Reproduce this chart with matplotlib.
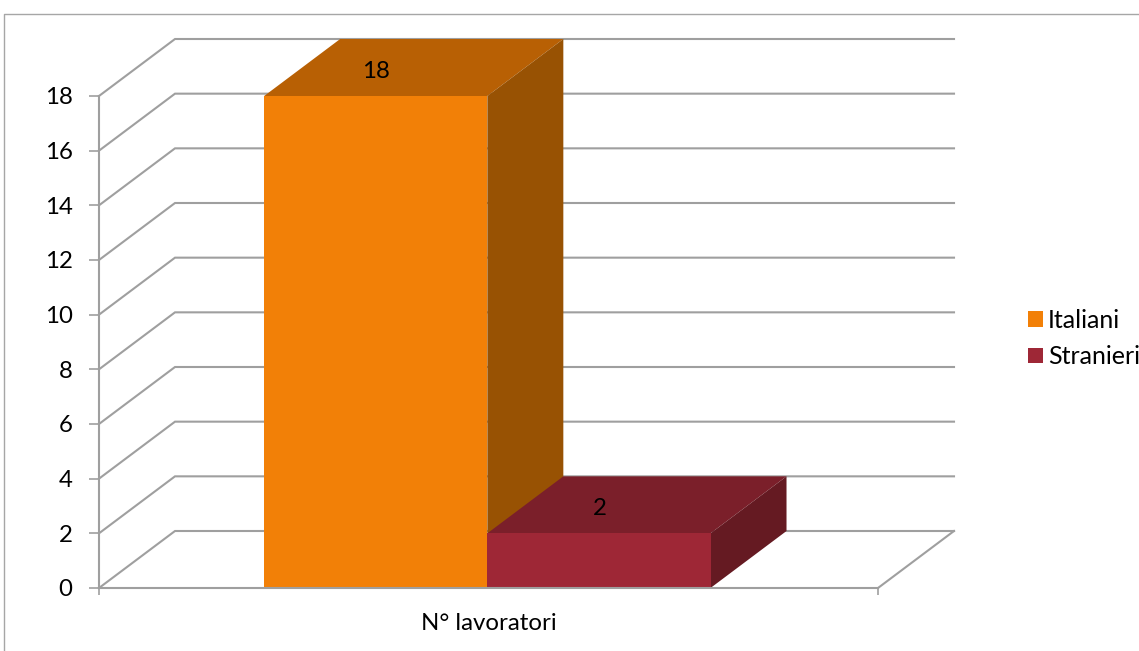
#!/usr/bin/env python
"""Pseudo-3D clustered column chart: N. of workers, Italian vs foreign."""
import matplotlib
matplotlib.use("Agg")
import matplotlib.pyplot as plt
from matplotlib.lines import Line2D
from matplotlib.patches import Polygon

plt.rcParams['font.family'] = ['Lato', 'DejaVu Sans']

category = "N° lavoratori"
series_names = ["Italiani", "Stranieri"]
series_values = [18, 2]
y_ticks = [0, 2, 4, 6, 8, 10, 12, 14, 16, 18]

front_colors = ["#F28007", "#9E2736"]
top_colors = ["#B86004", "#7B1F2A"]
side_colors = ["#985203", "#651A22"]
line_color = "#9F9F9F"
FONT_SIZE = 17.3

W, H = 1139, 651
fig = plt.figure(figsize=(W / 100, H / 100), dpi=100)

# plot box is the front face of the 3D box, in pixels
left, right, top, bottom = 99, 878, 96, 588
ax = fig.add_axes([left / W, 1 - bottom / H, (right - left) / W, (bottom - top) / H])
ax.set_xlim(0, 1)
ax.set_ylim(0, 18)

# depth of the box in data units
dx = 76 / (right - left)
dy = 57 / ((bottom - top) / 18)

# side wall and back wall grid
for v in y_ticks:
    ax.plot([0, dx, 1 + dx], [v, v + dy, v + dy], color=line_color, lw=1.5,
            clip_on=False, zorder=1, solid_joinstyle='miter')
ax.plot([1, 1 + dx], [0, dy], color=line_color, lw=1.5, clip_on=False, zorder=1)

width = 0.2865
center = 0.4985
for i, val in enumerate(series_values):
    x0 = center + (i - 1) * width
    x1 = x0 + width
    z = 2 + i
    ax.bar(x0, val, width=width, align='edge', color=front_colors[i],
           label=series_names[i], zorder=z + 0.1, clip_on=False)
    ax.add_patch(Polygon([(x0, val), (x1, val), (x1 + dx, val + dy), (x0 + dx, val + dy)],
                         closed=True, facecolor=top_colors[i], edgecolor='none',
                         zorder=z, clip_on=False))
    ax.add_patch(Polygon([(x1, 0), (x1 + dx, dy), (x1 + dx, val + dy), (x1, val)],
                         closed=True, facecolor=side_colors[i], edgecolor='none',
                         zorder=z, clip_on=False))
    ax.annotate(str(val), xy=((x0 + x1) / 2, val), xytext=(0.5, 18),
                textcoords='offset points', ha='center', va='center',
                fontsize=FONT_SIZE, color='black', zorder=10)

for name in ['top', 'right']:
    ax.spines[name].set_visible(False)
for name in ['left', 'bottom']:
    ax.spines[name].set_color(line_color)
    ax.spines[name].set_linewidth(1.5)
    ax.spines[name].set_zorder(6)

ax.set_yticks(y_ticks)
ax.set_xticks([0, 1])
ax.set_xticklabels([])
ax.set_xticks([0.5], [category], minor=True)
ax.tick_params(axis='y', length=7, width=1.2, color=line_color, pad=12,
               labelsize=FONT_SIZE, labelcolor='black')
ax.tick_params(axis='x', which='major', length=5, width=1.2, color=line_color)
ax.tick_params(axis='x', which='minor', length=0, pad=18, labelsize=FONT_SIZE,
               labelcolor='black')

ax.legend(loc='center left', bbox_to_anchor=(1028 / W, 1 - 338.5 / H),
          bbox_transform=fig.transFigure, frameon=False, fontsize=FONT_SIZE + 0.7,
          handlelength=0.6, handleheight=0.6, handletextpad=0.2,
          labelspacing=0.55, borderpad=0, borderaxespad=0)

# chart area border, only top and left show in the crop
fig.add_artist(Line2D([4 / W, 4 / W, 1], [0, 1 - 14 / H, 1 - 14 / H],
                      color="#A6A6A6", lw=1.0))

fig.savefig("out.png", dpi=100)
